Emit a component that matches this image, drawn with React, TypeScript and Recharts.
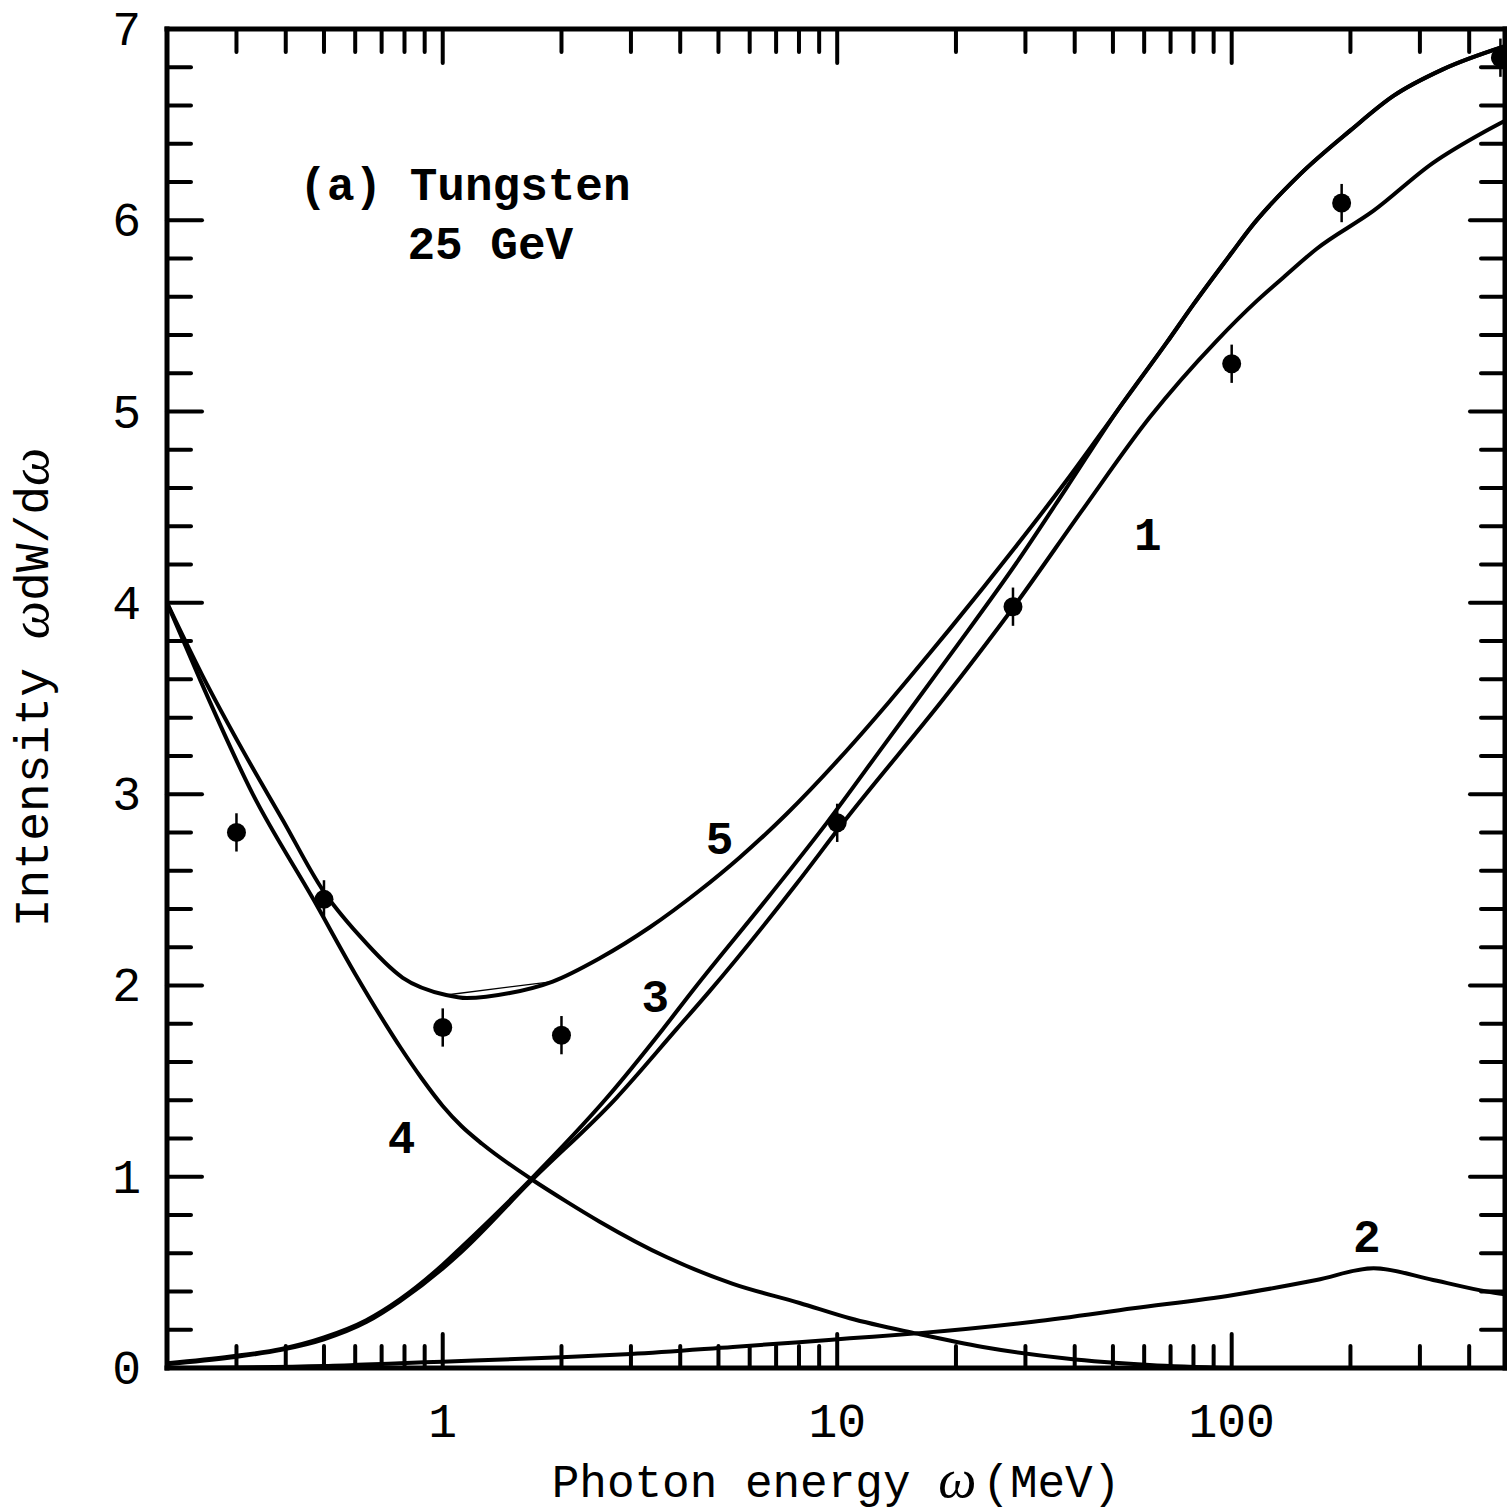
import React from "react";
import {
  ComposedChart,
  Line,
  Scatter,
  ErrorBar,
  XAxis,
  YAxis,
  ReferenceDot,
} from "recharts";

// ---- axes ----
const X_DOMAIN: [number, number] = [0.2, 493];
const X_TICKS = [
  0.3, 0.4, 0.5, 0.6, 0.7, 0.8, 0.9, 1, 2, 3, 4, 5, 6, 7, 8, 9, 10, 20, 30, 40,
  50, 60, 70, 80, 90, 100, 200, 300, 400,
];
const X_MAJOR = [1, 10, 100];
const Y_TICKS = [
  0, 0.2, 0.4, 0.6, 0.8, 1, 1.2, 1.4, 1.6, 1.8, 2, 2.2, 2.4, 2.6, 2.8, 3, 3.2,
  3.4, 3.6, 3.8, 4, 4.2, 4.4, 4.6, 4.8, 5, 5.2, 5.4, 5.6, 5.8, 6, 6.2, 6.4, 6.6,
  6.8, 7,
];

// ---- curves, [omega (MeV), intensity] ----
const CURVE_1: [number, number][] = [
  [0.2, 0.02], [0.29, 0.055], [0.39, 0.095], [0.5, 0.15], [0.64, 0.24],
  [0.78, 0.35], [1.0, 0.52], [1.12, 0.61], [1.66, 0.97], [2.75, 1.41],
  [3.91, 1.77], [4.75, 1.97], [7.88, 2.53], [10.35, 2.85], [19.3, 3.54],
  [28.5, 4.0], [42.0, 4.49], [62.0, 4.97], [91.6, 5.37], [116, 5.58],
  [135, 5.7], [164, 5.85], [229, 6.05], [324, 6.3], [435, 6.46], [493, 6.52],
];
const CURVE_2: [number, number][] = [
  [0.2, 0.0], [0.5, 0.01], [0.78, 0.025], [1.0, 0.033], [2.0, 0.056],
  [3.0, 0.073], [5.44, 0.11], [8.0, 0.135], [10.76, 0.155], [15.9, 0.181],
  [31.4, 0.242], [56.3, 0.312], [101, 0.382], [164, 0.46], [229, 0.521],
  [324, 0.46], [443, 0.4], [493, 0.385],
];
const CURVE_3: [number, number][] = [
  [0.2, 0.025], [0.29, 0.06], [0.39, 0.1], [0.5, 0.16], [0.64, 0.25],
  [0.78, 0.36], [1.0, 0.54], [1.1, 0.62], [1.66, 0.98], [2.6, 1.41],
  [3.61, 1.77], [4.33, 1.98], [6.74, 2.47], [9.41, 2.85], [13.07, 3.25],
  [19.7, 3.75], [28.5, 4.21], [38.1, 4.6], [51.1, 5.0], [68.4, 5.36],
  [80, 5.56], [100, 5.83], [111, 5.955], [149, 6.24], [200, 6.47],
  [257, 6.65], [344, 6.79], [493, 6.91],
];
const CURVE_4: [number, number][] = [
  [0.2, 4.0], [0.24, 3.62], [0.33, 3.0], [0.47, 2.45], [0.6, 2.06],
  [0.72, 1.79], [0.78, 1.678], [0.883, 1.516], [1.0, 1.37], [1.115, 1.265],
  [1.26, 1.171], [1.69, 0.983], [2.06, 0.87], [2.5, 0.765], [3.69, 0.58],
  [5.44, 0.44], [8.03, 0.34], [10.76, 0.26], [15.9, 0.18], [23.4, 0.11],
  [38.1, 0.05], [62, 0.016], [100, 0.0],
];
const CURVE_5: [number, number][] = [
  [0.2, 4.0], [0.246, 3.62], [0.311, 3.23], [0.393, 2.865], [0.496, 2.5],
  [0.615, 2.26], [0.792, 2.04], [1.02, 1.95], [1.15, 1.934], [1.48, 1.96],
  [1.9, 2.02], [2.5, 2.142], [3.35, 2.304], [4.48, 2.496], [5.66, 2.669],
  [7.43, 2.895], [10.15, 3.188], [13.6, 3.487], [17.2, 3.739], [19.3, 3.864],
  [28.5, 4.3], [38.1, 4.638], [51.1, 5.0], [68.4, 5.36], [80, 5.56],
  [100, 5.83], [111, 5.955], [149, 6.24], [200, 6.47], [257, 6.65],
  [344, 6.79], [493, 6.91],
];
// faint straight chord near the minimum of curve 5
const CURVE_5_CHORD: [number, number][] = [[1.02, 1.95], [1.9, 2.02]];

// ---- measured points ----
const POINTS: [number, number][] = [
  [0.3, 2.8], [0.5, 2.45], [1.0, 1.78], [2.0, 1.74], [10, 2.85], [27.9, 3.98],
  [100, 5.25], [190, 6.09], [480, 6.85],
];
const POINT_ERR = 0.1;

// ---- annotations ----
const CURVE_LABELS = [
  { text: "1", x: 61.3, y: 4.276 },
  { text: "2", x: 220, y: 0.606 },
  { text: "3", x: 3.46, y: 1.861 },
  { text: "4", x: 0.786, y: 1.124 },
  { text: "5", x: 5.03, y: 2.687 },
];
const NOTES = [
  { text: "(a) Tungsten", x: 0.433, y: 6.105 },
  { text: "25 GeV", x: 0.814, y: 5.8 },
];

const MONO = "'Liberation Mono', 'DejaVu Sans Mono', monospace";
const SERIF = "'Liberation Serif', 'DejaVu Serif', serif";

const rows = (pts: [number, number][]) => pts.map(([x, y]) => ({ x, y }));
const pointRows = POINTS.map(([x, y]) => ({ x, y, err: POINT_ERR }));

const isMajorX = (v: number) => X_MAJOR.includes(v);
const isMajorY = (v: number) => Math.abs(v - Math.round(v)) < 1e-6;

function BottomTick({ x, y, payload }: any) {
  const v = payload.value;
  const major = isMajorX(v);
  return (
    <g>
      <line x1={x} x2={x} y1={y} y2={y - (major ? 34 : 22)} stroke="#000" strokeWidth={4} strokeLinecap="round" />
      {major && (
        <text x={x} y={y + 69} textAnchor="middle" fontFamily={MONO} fontSize={48} fill="#000">
          {v}
        </text>
      )}
    </g>
  );
}

function TopTick({ x, y, payload }: any) {
  const major = isMajorX(payload.value);
  return (
    <line x1={x} x2={x} y1={y} y2={y + (major ? 34 : 23)} stroke="#000" strokeWidth={4} strokeLinecap="round" />
  );
}

function LeftTick({ x, y, payload }: any) {
  const v = payload.value;
  const major = isMajorY(v);
  return (
    <g>
      <line x1={x} x2={x + (major ? 35 : 24)} y1={y} y2={y} stroke="#000" strokeWidth={4} strokeLinecap="round" />
      {major && (
        <text x={x - 26} y={y + 16} textAnchor="end" fontFamily={MONO} fontSize={48} fill="#000">
          {Math.round(v)}
        </text>
      )}
    </g>
  );
}

function RightTick({ x, y, payload }: any) {
  const major = isMajorY(payload.value);
  return (
    <line x1={x} x2={x - (major ? 35 : 24)} y1={y} y2={y} stroke="#000" strokeWidth={4} strokeLinecap="round" />
  );
}

function XTitle({ viewBox }: any) {
  const cx = viewBox.x + viewBox.width / 2;
  return (
    <text x={cx} y={viewBox.y + 129} textAnchor="middle" fontFamily={MONO} fontSize={46} fill="#000">
      {"Photon energy "}
      <tspan fontFamily={SERIF} fontStyle="italic" fontSize={54}>ω</tspan>
      <tspan dx={6}>(MeV)</tspan>
    </text>
  );
}

function YTitle({ viewBox }: any) {
  const cy = viewBox.y + viewBox.height / 2 - 11;
  return (
    <text
      transform={`translate(48,${cy}) rotate(-90)`}
      textAnchor="middle"
      fontFamily={MONO}
      fontSize={48}
      fill="#000"
    >
      {"Intensity "}
      <tspan fontFamily={SERIF} fontStyle="italic" fontSize={54}>ω</tspan>
      {"dW/d"}
      <tspan fontFamily={SERIF} fontStyle="italic" fontSize={54}>ω</tspan>
    </text>
  );
}

const axisLine = { stroke: "#000", strokeWidth: 5, strokeLinecap: "square" as const };

const curveStyle = {
  type: "monotone" as const,
  dataKey: "y",
  stroke: "#000",
  strokeWidth: 4,
  dot: false,
  activeDot: false,
  isAnimationActive: false,
};

export default function App() {
  return (
    <div style={{ width: 1507, height: 1512, background: "#fff" }}>
      <style>{"body{margin:0;background:#fff}"}</style>
      <ComposedChart width={1507} height={1512} margin={{ top: 28, right: 1, bottom: 0, left: 0 }}>
        <XAxis
          dataKey="x"
          type="number"
          scale="log"
          domain={X_DOMAIN}
          allowDataOverflow
          ticks={X_TICKS}
          interval={0}
          height={144}
          tickSize={0}
          tickMargin={0}
          tickLine={false}
          axisLine={axisLine}
          tick={<BottomTick />}
          label={<XTitle />}
        />
        <XAxis
          xAxisId="top"
          orientation="top"
          dataKey="x"
          type="number"
          scale="log"
          domain={X_DOMAIN}
          allowDataOverflow
          ticks={X_TICKS}
          interval={0}
          height={1}
          tickSize={0}
          tickMargin={0}
          tickLine={false}
          axisLine={axisLine}
          tick={<TopTick />}
        />
        <YAxis
          dataKey="y"
          type="number"
          domain={[0, 7]}
          allowDataOverflow
          ticks={Y_TICKS}
          interval={0}
          width={167}
          tickSize={0}
          tickMargin={0}
          tickLine={false}
          axisLine={axisLine}
          tick={<LeftTick />}
          label={<YTitle />}
        />
        <YAxis
          yAxisId="right"
          orientation="right"
          dataKey="y"
          type="number"
          domain={[0, 7]}
          allowDataOverflow
          ticks={Y_TICKS}
          interval={0}
          width={1}
          tickSize={0}
          tickMargin={0}
          tickLine={false}
          axisLine={axisLine}
          tick={<RightTick />}
        />

        <Line {...curveStyle} data={rows(CURVE_1)} name="1" />
        <Line {...curveStyle} data={rows(CURVE_2)} name="2" />
        <Line {...curveStyle} data={rows(CURVE_3)} name="3" />
        <Line {...curveStyle} data={rows(CURVE_4)} name="4" />
        <Line {...curveStyle} data={rows(CURVE_5)} name="5" />
        <Line {...curveStyle} type="linear" strokeWidth={1.3} data={rows(CURVE_5_CHORD)} name="5b" />

        <Scatter
          data={pointRows}
          isAnimationActive={false}
          shape={(p: any) => <circle cx={p.cx} cy={p.cy} r={9.5} fill="#000" />}
        >
          <ErrorBar dataKey="err" direction="y" width={0} stroke="#000" strokeWidth={2.5} isAnimationActive={false} />
        </Scatter>

        {CURVE_LABELS.map((l) => (
          <ReferenceDot
            key={l.text}
            x={l.x}
            y={l.y}
            r={0}
            fill="none"
            stroke="none"
            label={(p: any) => (
              <text
                x={p.viewBox.x}
                y={p.viewBox.y}
                textAnchor="middle"
                fontFamily={MONO}
                fontWeight="bold"
                fontSize={46}
                fill="#000"
              >
                {l.text}
              </text>
            )}
          />
        ))}
        {NOTES.map((n) => (
          <ReferenceDot
            key={n.text}
            x={n.x}
            y={n.y}
            r={0}
            fill="none"
            stroke="none"
            label={(p: any) => (
              <text
                x={p.viewBox.x}
                y={p.viewBox.y}
                textAnchor="start"
                fontFamily={MONO}
                fontWeight="bold"
                fontSize={46}
                fill="#000"
                style={{ whiteSpace: "pre" }}
              >
                {n.text}
              </text>
            )}
          />
        ))}
      </ComposedChart>
    </div>
  );
}
